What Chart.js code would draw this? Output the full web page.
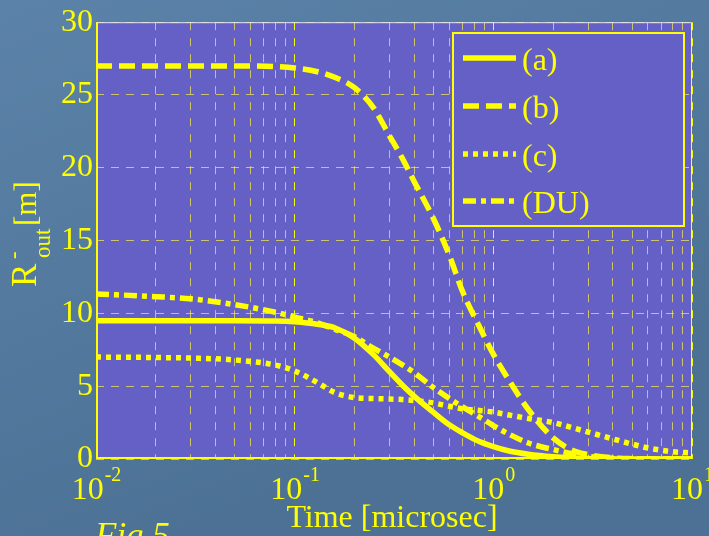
<!DOCTYPE html>
<html>
<head>
<meta charset="utf-8">
<script src="https://cdn.jsdelivr.net/npm/chart.js@4"></script>
<style>
  html, body { margin: 0; padding: 0; background: #52789e; }
  canvas { display: block; }
</style>
</head>
<body>
<canvas id="routChart" width="709" height="536"></canvas>
<script>
// Time axis (microsec) shared by all curves
const timeUs = [0.01, 0.02, 0.03, 0.05, 0.08, 0.1, 0.13, 0.16, 0.2, 0.25, 0.3, 0.35, 0.4, 0.5,
  0.6, 0.7, 0.85, 1, 1.2, 1.5, 2, 2.5, 3, 4, 5, 6, 8, 10];

// R-out [m] for each case
const rA  = [9.5, 9.5, 9.5, 9.5, 9.48, 9.42, 9.25, 9.0, 8.3, 7.15, 6.0, 5.05, 4.3, 3.2,
  2.35, 1.8, 1.2, 0.85, 0.55, 0.33, 0.15, 0.07, 0.03, 0.01, 0, 0, 0, 0];
const rB  = [27.0, 27.0, 27.0, 27.0, 26.95, 26.85, 26.6, 26.2, 25.5, 24.1, 22.2, 20.6, 19.05, 16.5,
  14.0, 11.5, 9.1, 7.2, 5.4, 3.4, 1.45, 0.6, 0.3, 0.08, 0.02, 0, 0, 0];
const rC  = [7.0, 6.97, 6.93, 6.8, 6.45, 6.05, 5.25, 4.55, 4.22, 4.15, 4.12, 4.08, 4.02, 3.85,
  3.62, 3.45, 3.33, 3.22, 3.02, 2.78, 2.5, 2.15, 1.85, 1.38, 1.02, 0.76, 0.5, 0.42];
const rDU = [11.34, 11.15, 11.0, 10.6, 10.08, 9.75, 9.35, 8.9, 8.4, 7.6, 7.0, 6.45, 5.93, 4.9,
  4.15, 3.58, 2.9, 2.3, 1.7, 1.1, 0.65, 0.36, 0.18, 0.05, 0.01, 0, 0, 0];

const seriesLabels = ['(a)', '(b)', '(c)', '(DU)'];

// axis ticks
const xDecades = [0.01, 0.1, 1, 10];
const xExponents = ['-2', '-1', '0', '1'];
const yTicks = [0, 5, 10, 15, 20, 25, 30];

const yellow = '#ffff00';
const plotBg = '#6560c6';
const gridMinor = 'rgba(255,240,70,0.68)';
const gridMajor = 'rgba(255,255,0,0.95)';
const serif = '"Liberation Serif", "Times New Roman", serif';

// gridline positions 1..9 per decade
const xGrid = [];
xDecades.slice(0, -1).forEach(d => { for (let k = 1; k <= 9; k++) xGrid.push(+(k * d).toPrecision(3)); });
xGrid.push(10);
const isDecade = v => xDecades.some(d => Math.abs(v - d) < d * 1e-6);

const pts = arr => timeUs.map((t, i) => ({ x: t, y: arr[i] }));

const lineStyle = (label, arr, dash) => ({
  label,
  data: pts(arr),
  borderColor: yellow,
  borderWidth: 5.5,
  borderDash: dash,
  borderCapStyle: 'butt',
  pointRadius: 0,
  cubicInterpolationMode: 'monotone',
  fill: false
});

// background + plot area fill
const bgPlugin = {
  id: 'bg',
  beforeDraw(chart) {
    const { ctx, chartArea: a, width, height } = chart;
    ctx.save();
    const g = ctx.createLinearGradient(0, 0, width * 0.3, height);
    g.addColorStop(0, '#5b82a8');
    g.addColorStop(1, '#4c7195');
    ctx.fillStyle = g;
    ctx.fillRect(0, 0, width, height);
    ctx.fillStyle = plotBg;
    ctx.fillRect(a.left, a.top, a.right - a.left, a.bottom - a.top);
    ctx.restore();
  }
};

// frame, legend, x labels and axis titles
const decoPlugin = {
  id: 'deco',
  afterDraw(chart) {
    const { ctx, chartArea: a } = chart;
    const xs = chart.scales.x;
    ctx.save();

    // frame
    ctx.lineWidth = 1;
    ctx.strokeStyle = '#e6e6f4';
    ctx.beginPath();
    ctx.moveTo(a.left, a.top + 0.5); ctx.lineTo(a.right - 0.5, a.top + 0.5); ctx.lineTo(a.right - 0.5, a.bottom);
    ctx.stroke();
    ctx.lineWidth = 2;
    ctx.strokeStyle = yellow;
    ctx.beginPath();
    ctx.moveTo(a.left + 1, a.top); ctx.lineTo(a.left + 1, a.bottom - 1); ctx.lineTo(a.right, a.bottom - 1);
    ctx.stroke();

    // legend box
    const lx = 453, ly = 33, lw = 231, lh = 193;
    ctx.fillStyle = plotBg;
    ctx.fillRect(lx, ly, lw, lh);
    ctx.strokeStyle = yellow;
    ctx.lineWidth = 2;
    ctx.strokeRect(lx, ly, lw, lh);
    const rowY = [58, 106, 154, 201];
    chart.data.datasets.forEach((ds, i) => {
      ctx.lineWidth = ds.borderWidth;
      ctx.setLineDash(ds.borderDash);
      ctx.lineCap = 'butt';
      ctx.beginPath();
      ctx.moveTo(463, rowY[i]); ctx.lineTo(516, rowY[i]);
      ctx.stroke();
      ctx.setLineDash([]);
      ctx.fillStyle = yellow;
      ctx.font = '32px ' + serif;
      ctx.textBaseline = 'middle';
      ctx.textAlign = 'left';
      ctx.fillText(ds.label, 522, rowY[i] + 4);
    });

    // x tick labels 10^n
    ctx.fillStyle = yellow;
    ctx.textBaseline = 'alphabetic';
    ctx.textAlign = 'left';
    xDecades.forEach((v, i) => {
      const px = xs.getPixelForValue(v);
      ctx.font = '32px ' + serif;
      const wb = ctx.measureText('10').width;
      ctx.font = '20px ' + serif;
      const we = ctx.measureText(xExponents[i]).width;
      const x0 = px - (wb + we) / 2;
      ctx.font = '32px ' + serif;
      ctx.fillText('10', x0, 499);
      ctx.font = '20px ' + serif;
      ctx.fillText(xExponents[i], x0 + wb + 1, 481);
    });

    // x title
    ctx.font = '32px ' + serif;
    ctx.textAlign = 'center';
    ctx.fillText('Time [microsec]', (a.left + a.right) / 2 - 2, 527);

    // y title: R^-_out [m], rotated
    ctx.save();
    ctx.translate(36, 287);
    ctx.rotate(-Math.PI / 2);
    ctx.textAlign = 'left';
    ctx.font = '35px ' + serif;
    ctx.fillText('R', 0, 0);
    ctx.font = '23px ' + serif;
    ctx.fillText('-', 28, -15);
    ctx.fillText('out', 29, 14);
    ctx.font = '31px ' + serif;
    ctx.fillText('[m]', 61, 0);
    ctx.restore();

    // figure caption (cut by the frame edge)
    ctx.font = 'italic 35px ' + serif;
    ctx.textAlign = 'left';
    ctx.fillText('Fig.5', 95, 547);

    ctx.restore();
  }
};

const ctxRout = document.getElementById('routChart').getContext('2d');
const routChart = new Chart(ctxRout, {
  type: 'line',
  data: {
    datasets: [
      lineStyle(seriesLabels[0], rA, []),
      lineStyle(seriesLabels[1], rB, [16, 7]),
      lineStyle(seriesLabels[2], rC, [5, 5]),
      lineStyle(seriesLabels[3], rDU, [13, 5, 5, 5])
    ]
  },
  options: {
    responsive: false,
    animation: false,
    layout: { padding: { top: 18, right: 17, left: 0, bottom: 0 } },
    plugins: {
      legend: { display: false },
      tooltip: { enabled: false }
    },
    scales: {
      x: {
        type: 'logarithmic',
        min: 0.01,
        max: 10,
        afterBuildTicks: s => { s.ticks = xGrid.map(v => ({ value: v })); },
        afterFit: s => { s.height = 77; },
        ticks: { display: false },
        grid: {
          color: c => (c.tick && isDecade(c.tick.value) ? gridMajor : gridMinor),
          lineWidth: 1,
          drawTicks: false
        },
        border: { display: false, dash: [8, 8] }
      },
      y: {
        min: 0,
        max: 30,
        afterBuildTicks: s => { s.ticks = yTicks.map(v => ({ value: v })); },
        afterFit: s => { s.width = 96; },
        ticks: {
          color: yellow,
          font: { family: serif, size: 32 },
          padding: 3
        },
        grid: { color: gridMinor, lineWidth: 1, drawTicks: false },
        border: { display: false, dash: [8, 7] }
      }
    }
  },
  plugins: [bgPlugin, decoPlugin]
});
</script>
</body>
</html>
